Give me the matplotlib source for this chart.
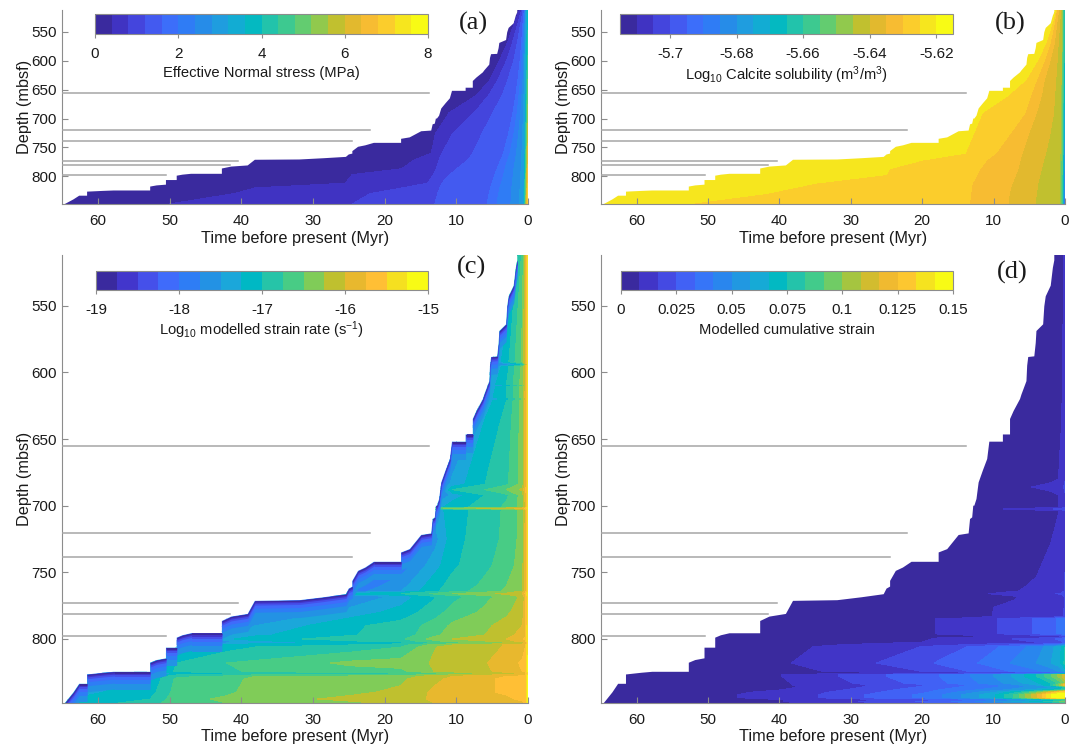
#!/usr/bin/env python3

import numpy as np
import matplotlib
matplotlib.use("Agg")
import matplotlib.pyplot as plt
from matplotlib.cm import ScalarMappable
from matplotlib.colors import BoundaryNorm, LinearSegmentedColormap
from matplotlib.patches import Polygon

plt.rcParams["font.family"] = ["Liberation Sans", "DejaVu Sans"]
plt.rcParams["mathtext.default"] = "regular"

WIDTH = 1082
HEIGHT = 748

PARULA = ["#3a2a9e", "#4236cc", "#4550ea", "#3f6bfb", "#2e7df5", "#2392e4", "#1ba7da", "#00b8c4",
          "#26c4a8", "#48cc85", "#80cc58", "#bfc02f", "#e8b82e", "#ffbf35", "#f5e020", "#f8fb15"]

# top of the sediment column, age (Myr) and depth (mbsf)
BOUNDARY_AGE = [64.8, 64.6, 63.4, 62.6, 61.5, 61.5, 59.3, 57.8, 52.7, 52.7, 51.8, 50.5, 50.5, 49.0, 49.0, 48.2,
                47.0, 42.7, 42.7, 41.4, 39.1, 38.1, 31.9, 28.5, 25.4, 25.0, 24.5, 24.5, 23.7, 22.7, 21.5, 17.7,
                17.7, 16.5, 14.9, 13.5, 13.3, 13.0, 12.85, 12.7, 12.4, 12.1, 11.5, 10.9, 10.6, 8.7, 8.7, 7.7,
                7.7, 7.2, 6.3, 6.1, 5.4, 5.3, 5.15, 4.3, 4.1, 4.0, 3.06, 2.9, 2.7, 2.0, 1.7, 1.5, 1.5]
BOUNDARY_DEPTH = [848, 848, 840, 833.6, 833.6, 826.6, 825.3, 824.6, 824.6, 817.8, 815.8, 814.5, 806.5, 806.5, 799,
                  797.2, 795.7, 795.7, 786.5, 783.2, 781.2, 771.4, 770.9, 768.7, 766.4, 762.2, 760.7, 756.4,
                  748.9, 746.4, 742.1, 742.1, 735.1, 732.6, 722, 720.8, 710, 708.8, 700, 700, 695, 682.6, 673.5,
                  665, 652, 652, 646.6, 646.6, 635, 629, 620, 616.6, 606.6, 595, 588.5, 588, 578, 569, 564,
                  550.5, 543, 535, 521.6, 516, 512]

HORIZON_DEPTH = [655.5, 720.5, 738.3, 773, 781, 797.6]
HORIZON_AGE = [13.8, 22.1, 24.5, 40.4, 41.6, 50.5]

# panels a and b: age at which each value is reached, for each depth row
EDGE_DEPTH = [512, 535, 570, 600, 633, 660, 690, 726, 760, 772, 787, 797, 812, 820, 830, 848]

STRESS_VALUES = [0.0, 0.4, 0.8, 1.2, 1.6, 2.0, 2.4, 2.8, 3.2]
STRESS_EDGE_AGES = [
    [66] * 16,
    [1.2, 1.9, 2.9, 4.0, 5.3, 7.2, 11, 12.9, 13.5, 15.9, 17.6, 24.5, 25.5, 38, 41, 50],
    [0.9, 1.4, 2.2, 3.0, 4.2, 5.5, 7.5, 10.5, 12, 12.4, 12.8, 13.2, 14, 17.5, 22, 24.5],
    [0.7, 1.0, 1.5, 2.0, 2.8, 3.6, 4.9, 6.4, 7.7, 8.4, 9.9, 10.9, 12, 12.3, 12.6, 13],
    [0.5, 0.7, 0.9, 1.1, 1.4, 1.7, 2.1, 2.7, 3.4, 3.8, 4.3, 4.6, 5, 5.2, 5.4, 5.7],
    [0.4, 0.55, 0.7, 0.85, 1.05, 1.25, 1.5, 1.95, 2.5, 2.8, 3.2, 3.4, 3.7, 3.9, 4.1, 4.3],
    [0.33, 0.42, 0.5, 0.6, 0.7, 0.85, 1.0, 1.3, 1.6, 1.75, 1.95, 2.05, 2.2, 2.25, 2.3, 2.4],
    [0.27, 0.33, 0.38, 0.44, 0.5, 0.56, 0.63, 0.75, 0.85, 0.9, 0.95, 1.0, 1.05, 1.1, 1.15, 1.2],
    [0.2, 0.24, 0.28, 0.3, 0.33, 0.36, 0.4, 0.44, 0.48, 0.5, 0.52, 0.53, 0.55, 0.56, 0.58, 0.6],
]
STRESS_SURFACE = [3.8, 3.9, 4.2, 4.5, 4.8, 5.0, 5.4, 5.8, 6.2, 6.3, 6.5, 6.6, 6.8, 6.9, 7.0, 7.2]

SOLUB_VALUES = [-5.6225, -5.625, -5.63, -5.635, -5.64, -5.645, -5.655]
SOLUB_EDGE_AGES = [
    [66] * 16,
    [1.3, 1.8, 2.7, 3.9, 5.5, 8, 11.6, 12.8, 14, 20, 24.6, 25, 35, 38, 42, 53],
    [1.2, 1.5, 2.1, 2.9, 4, 4.8, 5.6, 7.7, 9.7, 11, 11.9, 12.3, 13, 13.1, 13.2, 13.4],
    [0.9, 1.15, 1.5, 2.1, 2.9, 3.3, 4, 5.1, 6, 6.3, 6.6, 6.9, 7.4, 7.6, 7.8, 8],
    [0.6, 0.75, 0.95, 1.1, 1.3, 1.45, 1.6, 2.1, 2.7, 3, 3.3, 3.5, 3.8, 3.9, 4, 4.2],
    [0.45, 0.48, 0.5, 0.53, 0.55, 0.58, 0.6, 0.65, 0.7, 0.72, 0.74, 0.76, 0.78, 0.79, 0.8, 0.82],
    [0.3, 0.31, 0.32, 0.33, 0.34, 0.35, 0.36, 0.38, 0.4, 0.4, 0.41, 0.42, 0.43, 0.43, 0.44, 0.45],
]
SOLUB_SURFACE = [-5.665, -5.667, -5.67, -5.672, -5.675, -5.678, -5.68, -5.685, -5.688, -5.69, -5.692, -5.694,
                 -5.696, -5.697, -5.698, -5.70]

# panel c
RATE_AGES = [66, 52.7, 49, 42, 38, 25, 17.7, 13, 10.5, 6, 3, 0.8, 0.35, 0]
RATE_DEPTH = [512, 560, 592, 594, 596, 609, 610, 611, 619, 620, 621, 640, 684, 688, 692, 701, 702, 703, 725, 745,
              760, 764, 766, 768, 770, 780, 790, 797, 800, 801.5, 803, 804.5, 806, 818, 824, 826, 828, 830, 840,
              845, 848]
RATE_TABLE = [
    [-18, -18, -18, -18, -18, -18, -18, -18, -18, -18, -17.6, -16.7, -16.1, -15.4],
    [-18, -18, -18, -18, -18, -18, -18, -18, -18, -18, -17.3, -16.5, -16.0, -15.4],
    [-18, -18, -18, -18, -18, -18, -18, -18, -18, -17.7, -17.1, -16.45, -15.95, -15.4],
    [-18, -18, -18, -18, -18, -18, -18, -18, -18, -18.1, -17.7, -17.1, -16.3, -15.5],
    [-18, -18, -18, -18, -18, -18, -18, -18, -18, -17.7, -17.1, -16.45, -15.95, -15.4],
    [-18, -18, -18, -18, -18, -18, -18, -18, -18, -17.5, -17.0, -16.4, -15.95, -15.4],
    [-18, -18, -18, -18, -18, -18, -18, -18, -18, -17.8, -17.3, -16.7, -16.1, -15.5],
    [-18, -18, -18, -18, -18, -18, -18, -18, -18, -17.5, -17.0, -16.4, -15.95, -15.4],
    [-18, -18, -18, -18, -18, -18, -18, -18, -18, -17.4, -17.0, -16.4, -15.9, -15.4],
    [-18, -18, -18, -18, -18, -18, -18, -18, -18, -17.7, -17.3, -16.7, -16.1, -15.5],
    [-18, -18, -18, -18, -18, -18, -18, -18, -18, -17.4, -17.0, -16.4, -15.9, -15.4],
    [-18, -18, -18, -18, -18, -18, -18, -18, -18, -17.2, -16.9, -16.4, -15.9, -15.4],
    [-18, -18, -18, -18, -18, -18, -18, -18, -17.4, -17.0, -16.8, -16.4, -15.9, -15.4],
    [-18, -18, -18, -18, -18, -18, -18, -18, -17.0, -16.75, -16.5, -16.2, -15.8, -15.4],
    [-18, -18, -18, -18, -18, -18, -18, -18, -17.4, -17.0, -16.8, -16.4, -15.9, -15.4],
    [-18, -18, -18, -18, -18, -18, -18, -17.4, -17.1, -16.9, -16.7, -16.4, -15.95, -15.4],
    [-18, -18, -18, -18, -18, -18, -18, -16.6, -16.4, -16.2, -16.1, -15.9, -15.7, -15.3],
    [-18, -18, -18, -18, -18, -18, -18, -17.4, -17.1, -16.9, -16.7, -16.4, -15.95, -15.4],
    [-18, -18, -18, -18, -18, -18, -18, -17.6, -17.1, -16.85, -16.7, -16.4, -15.9, -15.4],
    [-18, -18, -18, -18, -18, -18, -17.9, -17.35, -17.05, -16.8, -16.65, -16.35, -15.9, -15.4],
    [-18, -18, -18, -18, -18, -18.0, -17.6, -17.1, -16.9, -16.7, -16.5, -16.3, -15.9, -15.4],
    [-18, -18, -18, -18, -18, -17.9, -17.5, -17.05, -16.85, -16.65, -16.45, -16.25, -15.85, -15.4],
    [-18, -18, -18, -18, -18, -17.2, -17.0, -16.7, -16.5, -16.3, -16.2, -16.0, -15.7, -15.3],
    [-18, -18, -18, -18, -18, -17.8, -17.4, -17.0, -16.85, -16.6, -16.4, -16.2, -15.85, -15.35],
    [-18, -18, -18, -18, -18, -17.7, -17.35, -17.0, -16.8, -16.55, -16.35, -16.2, -15.85, -15.3],
    [-18, -18, -18, -18, -17.9, -17.4, -17.15, -16.85, -16.65, -16.45, -16.3, -16.1, -15.85, -15.3],
    [-18, -18, -18, -18, -17.5, -17.05, -16.9, -16.65, -16.45, -16.3, -16.15, -16.0, -15.8, -15.3],
    [-18, -18, -18, -17.55, -17.3, -17.02, -16.9, -16.55, -16.4, -16.25, -16.1, -15.9, -15.8, -15.3],
    [-18, -18, -17.8, -17.3, -17.1, -16.9, -16.8, -16.4, -16.25, -16.1, -16.0, -15.8, -15.7, -15.25],
    [-18, -18, -18, -17.55, -17.3, -17.02, -16.9, -16.55, -16.4, -16.25, -16.1, -15.9, -15.8, -15.3],
    [-18, -18, -18, -17.5, -17.35, -17.2, -17.1, -16.8, -16.65, -16.5, -16.35, -16.2, -16.0, -15.5],
    [-18, -18, -17.7, -17.2, -17.1, -17.0, -16.85, -16.4, -16.25, -16.1, -15.98, -15.88, -15.8, -15.3],
    [-18, -18, -17.5, -17.1, -17.0, -16.9, -16.75, -16.26, -16.18, -16.1, -15.97, -15.85, -15.75, -15.3],
    [-18, -17.5, -17.0, -16.75, -16.7, -16.45, -16.4, -16.22, -16.12, -16.02, -15.85, -15.72, -15.65, -15.2],
    [-18, -17.4, -16.95, -16.8, -16.7, -16.6, -16.55, -16.24, -16.15, -16.05, -15.9, -15.75, -15.7, -15.2],
    [-18, -17.6, -17.2, -17.05, -16.95, -16.85, -16.8, -16.6, -16.45, -16.25, -16.1, -16.0, -15.9, -15.4],
    [-17.7, -17.3, -16.8, -16.7, -16.5, -16.45, -16.4, -16.1, -16.0, -15.85, -15.75, -15.7, -15.65, -15.2],
    [-17.6, -17.2, -16.7, -16.65, -16.4, -16.35, -16.3, -16.05, -15.95, -15.8, -15.7, -15.65, -15.6, -15.15],
    [-17.4, -17.1, -16.65, -16.55, -16.4, -16.3, -16.2, -15.95, -15.9, -15.78, -15.72, -15.65, -15.6, -15.15],
    [-17.3, -17.0, -16.6, -16.45, -16.35, -16.2, -16.15, -15.95, -15.9, -15.85, -15.8, -15.7, -15.65, -15.15],
    [-17.2, -16.9, -16.55, -16.5, -16.45, -16.3, -16.2, -16.0, -15.95, -15.9, -15.85, -15.8, -15.7, -15.2],
]
# thin low strain rate rim under the top of the column, depth below top and value
RIM_OFFSETS = [13, 8.5, 5.5, 3.2, 1.8, 0.8]
RIM_VALUES = [-17.65, -17.9, -18.15, -18.4, -18.65, -18.9]

# panel d
STRAIN_AGES = [66, 48, 40, 33, 26, 20, 17.7, 13, 10, 7, 4, 2, 1, 0.5, 0]
STRAIN_DEPTH = [512, 600, 650, 680, 686, 692, 701, 702.5, 704, 730, 760, 764, 766, 768, 776, 783, 785, 796, 798,
                800, 803, 806, 818, 824, 825.5, 827, 828, 833, 834.5, 836, 838, 840, 842, 844, 845.5, 847, 848]
STRAIN_TABLE = [
    [.002, .002, .002, .002, .002, .002, .002, .002, .002, .002, .002, .002, .002, .004, .012],
    [.002, .002, .002, .002, .002, .002, .002, .002, .002, .002, .002, .002, .003, .005, .014],
    [.002, .002, .002, .002, .002, .002, .002, .002, .002, .002, .003, .004, .006, .009, .016],
    [.002, .002, .002, .002, .002, .002, .002, .002, .002, .003, .004, .006, .008, .010, .016],
    [.002, .002, .002, .002, .002, .002, .002, .002, .004, .006, .009, .011, .014, .015, .018],
    [.002, .002, .002, .002, .002, .002, .002, .002, .002, .003, .004, .006, .008, .010, .016],
    [.002, .002, .002, .002, .002, .002, .002, .002, .002, .003, .004, .006, .008, .010, .016],
    [.002, .002, .002, .002, .002, .002, .002, .004, .007, .010, .013, .016, .018, .019, .022],
    [.002, .002, .002, .002, .002, .002, .002, .002, .002, .003, .004, .006, .008, .010, .016],
    [.002, .002, .002, .002, .002, .002, .002, .002, .002, .003, .006, .0085, .010, .011, .016],
    [.002, .002, .002, .002, .002, .002, .002, .002, .004, .0075, .009, .010, .011, .012, .017],
    [.002, .002, .002, .002, .002, .002, .002, .003, .005, .008, .010, .011, .012, .013, .018],
    [.002, .002, .002, .002, .002, .002, .003, .006, .009, .012, .014, .016, .017, .018, .021],
    [.002, .002, .002, .002, .002, .002, .002, .003, .006, .008, .010, .011, .012, .013, .018],
    [.002, .002, .002, .002, .002, .002, .002, .005, .0083, .009, .010, .011, .012, .013, .018],
    [.002, .002, .002, .002, .002, .003, .004, .006, .0085, .009, .010, .011, .012, .014, .018],
    [.002, .002, .002, .002, .003, .006, .0088, .0105, .016, .020, .026, .031, .034, .035, .037],
    [.002, .002, .002, .002, .003, .006, .0088, .0105, .016, .020, .026, .031, .034, .035, .037],
    [.002, .002, .002, .002, .003, .005, .006, .007, .008, .009, .010, .011, .012, .014, .019],
    [.002, .002, .002, .002, .003, .006, .010, .012, .014, .017, .020, .023, .026, .028, .034],
    [.002, .002, .003, .006, .008, .009, .010, .011, .013, .014, .016, .018, .020, .022, .028],
    [.002, .003, .005, .010, .012, .017, .020, .026, .032, .038, .045, .055, .062, .067, .075],
    [.002, .005, .0075, .011, .017, .022, .026, .032, .037, .043, .050, .058, .063, .068, .078],
    [.002, .003, .005, .009, .012, .017, .020, .026, .030, .035, .040, .045, .050, .055, .062],
    [.002, .002, .003, .005, .007, .009, .010, .011, .013, .015, .018, .022, .025, .028, .034],
    [.002, .004, .008, .015, .024, .030, .033, .042, .050, .060, .075, .090, .100, .107, .115],
    [.002, .004, .008, .015, .024, .030, .033, .042, .050, .060, .075, .090, .100, .107, .115],
    [.002, .004, .007, .013, .021, .028, .031, .040, .046, .055, .065, .075, .085, .090, .100],
    [.002, .004, .007, .012, .018, .024, .027, .034, .040, .048, .058, .075, .095, .110, .125],
    [.002, .003, .006, .012, .019, .026, .029, .036, .040, .047, .052, .056, .062, .066, .078],
    [.002, .004, .008, .014, .022, .030, .033, .040, .045, .052, .060, .065, .072, .076, .085],
    [.003, .006, .011, .017, .025, .032, .036, .048, .058, .072, .095, .118, .130, .135, .138],
    [.003, .007, .012, .018, .028, .035, .040, .055, .065, .085, .115, .140, .150, .150, .150],
    [.003, .007, .012, .018, .028, .035, .040, .055, .065, .085, .115, .140, .150, .150, .150],
    [.002, .004, .008, .012, .016, .020, .022, .030, .035, .040, .050, .055, .060, .060, .060],
    [.002, .004, .008, .012, .020, .026, .029, .040, .050, .060, .070, .080, .090, .095, .100],
    [.002, .003, .006, .010, .016, .020, .024, .032, .036, .042, .048, .052, .056, .058, .060],
]

X_TICKS = [60, 50, 40, 30, 20, 10, 0]
Y_TICKS = [550, 600, 650, 700, 750, 800]

STRESS_TICKS = [0, 2, 4, 6, 8]
STRESS_TICK_LABELS = ["0", "2", "4", "6", "8"]
SOLUB_TICKS = [-5.7, -5.68, -5.66, -5.64, -5.62]
SOLUB_TICK_LABELS = ["-5.7", "-5.68", "-5.66", "-5.64", "-5.62"]
RATE_TICKS = [-19, -18, -17, -16, -15]
RATE_TICK_LABELS = ["-19", "-18", "-17", "-16", "-15"]
STRAIN_TICKS = [0, 0.025, 0.05, 0.075, 0.1, 0.125, 0.15]
STRAIN_TICK_LABELS = ["0", "0.025", "0.05", "0.075", "0.1", "0.125", "0.15"]

GREY = "#8c8c8c"
TEXT = "#1a1a1a"


def pixel_axes(fig, left, right, top, bottom):
    return fig.add_axes([left / WIDTH, 1 - bottom / HEIGHT, (right - left) / WIDTH, (bottom - top) / HEIGHT])


def discrete_scale(low, high, bands):
    cmap = LinearSegmentedColormap.from_list("parula", PARULA, N=bands)
    levels = np.linspace(low, high, bands + 1)
    return levels, cmap, BoundaryNorm(levels, bands)


def column_clip(ax):
    ages = BOUNDARY_AGE + [0, 0]
    depths = BOUNDARY_DEPTH + [512, 848]
    return Polygon(np.column_stack([ages, depths]), closed=True, transform=ax.transData)


def setup_axes(ax):
    ax.set_xlim(65, 0)
    ax.set_ylim(848, 512)
    ax.set_xticks(X_TICKS)
    ax.set_yticks(Y_TICKS)
    ax.tick_params(direction="in", length=4, width=0.8, color=GREY, labelcolor=TEXT, labelsize=11)
    ax.tick_params(axis="x", pad=7)
    ax.tick_params(axis="y", pad=4)
    ax.spines["top"].set_visible(False)
    ax.spines["right"].set_visible(False)
    ax.spines["left"].set_color(GREY)
    ax.spines["bottom"].set_color(GREY)
    ax.set_xlabel("Time before present (Myr)", fontsize=11.7, color=TEXT, labelpad=2)
    ax.set_ylabel("Depth (mbsf)", fontsize=11.7, color=TEXT, labelpad=-1)
    for depth, age in zip(HORIZON_DEPTH, HORIZON_AGE):
        ax.plot([65, age], [depth, depth], color="#a6a6a6", linewidth=1.1, zorder=3)


def edge_field(ax, values, edge_ages, surface, scale):
    levels, cmap, norm = scale
    ages = np.array(edge_ages, dtype=float).T
    ages = np.column_stack([ages, np.zeros(len(EDGE_DEPTH))])
    depths = np.repeat(np.array(EDGE_DEPTH, dtype=float)[:, None], ages.shape[1], axis=1)
    field = np.tile(np.array(values, dtype=float), (len(EDGE_DEPTH), 1))
    field = np.column_stack([field, surface])
    cs = ax.contourf(ages, depths, field, levels=levels, cmap=cmap, norm=norm, extend="both")
    cs.set_clip_path(column_clip(ax))


def table_field(ax, ages, depths, table, scale):
    levels, cmap, norm = scale
    cs = ax.contourf(ages, depths, np.array(table), levels=levels, cmap=cmap, norm=norm, extend="both")
    cs.set_clip_path(column_clip(ax))


def add_colorbar(fig, box, scale, ticks, tick_labels, label, labelpad):
    levels, cmap, norm = scale
    cax = pixel_axes(fig, *box)
    cbar = fig.colorbar(ScalarMappable(norm=norm, cmap=cmap), cax=cax, orientation="horizontal",
                        spacing="proportional", ticks=ticks)
    cbar.set_ticklabels(tick_labels)
    cbar.minorticks_off()
    cbar.outline.set_edgecolor(GREY)
    cbar.outline.set_linewidth(0.8)
    cax.tick_params(direction="out", length=3, width=0.8, color=GREY, labelcolor=TEXT, labelsize=11, pad=6)
    cax.set_xlabel(label, fontsize=10.6, color=TEXT, labelpad=labelpad)


def main():
    fig = plt.figure(figsize=(WIDTH / 100, HEIGHT / 100), dpi=100)

    ax_a = pixel_axes(fig, 62, 528, 10, 204)
    ax_b = pixel_axes(fig, 601, 1065, 10, 204)
    ax_c = pixel_axes(fig, 62, 528, 255, 703)
    ax_d = pixel_axes(fig, 601, 1065, 255, 703)

    stress_scale = discrete_scale(0, 8, 20)
    solub_scale = discrete_scale(-5.715, -5.615, 20)
    rate_scale = discrete_scale(-19, -15, 16)
    strain_scale = discrete_scale(0, 0.15, 18)

    edge_field(ax_a, STRESS_VALUES, STRESS_EDGE_AGES, STRESS_SURFACE, stress_scale)
    edge_field(ax_b, SOLUB_VALUES, SOLUB_EDGE_AGES, SOLUB_SURFACE, solub_scale)
    table_field(ax_c, RATE_AGES, RATE_DEPTH, RATE_TABLE, rate_scale)
    table_field(ax_d, STRAIN_AGES, STRAIN_DEPTH, STRAIN_TABLE, strain_scale)

    # rim in panel c, deepest layer first
    _, rate_cmap, rate_norm = rate_scale
    boundary_depth = np.array(BOUNDARY_DEPTH, dtype=float)
    for offset, value in zip(RIM_OFFSETS, RIM_VALUES):
        rim = ax_c.fill_between(BOUNDARY_AGE, boundary_depth, boundary_depth + offset,
                                color=rate_cmap(rate_norm(value)), linewidth=0)
        rim.set_clip_path(column_clip(ax_c))

    for ax in (ax_a, ax_b, ax_c, ax_d):
        setup_axes(ax)

    add_colorbar(fig, (95, 428, 14, 34), stress_scale, STRESS_TICKS, STRESS_TICK_LABELS,
                 "Effective Normal stress (MPa)", 4)
    add_colorbar(fig, (620, 953, 14, 34), solub_scale, SOLUB_TICKS, SOLUB_TICK_LABELS,
                 "Log$_{10}$ Calcite solubility (m$^3$/m$^3$)", 3)
    add_colorbar(fig, (96, 428, 271, 290), rate_scale, RATE_TICKS, RATE_TICK_LABELS,
                 "Log$_{10}$ modelled strain rate (s$^{-1}$)", 2)
    add_colorbar(fig, (621, 953, 271, 290), strain_scale, STRAIN_TICKS, STRAIN_TICK_LABELS,
                 "Modelled cumulative strain", 5)

    for label, x, y in [("(a)", 473, 23), ("(b)", 1010, 23), ("(c)", 472, 267), ("(d)", 1012, 272)]:
        fig.text(x / WIDTH, 1 - y / HEIGHT, label, family="Liberation Serif", fontsize=19, color=TEXT,
                 ha="center", va="center")

    fig.savefig("out.png", dpi=100)


if __name__ == "__main__":
    main()
